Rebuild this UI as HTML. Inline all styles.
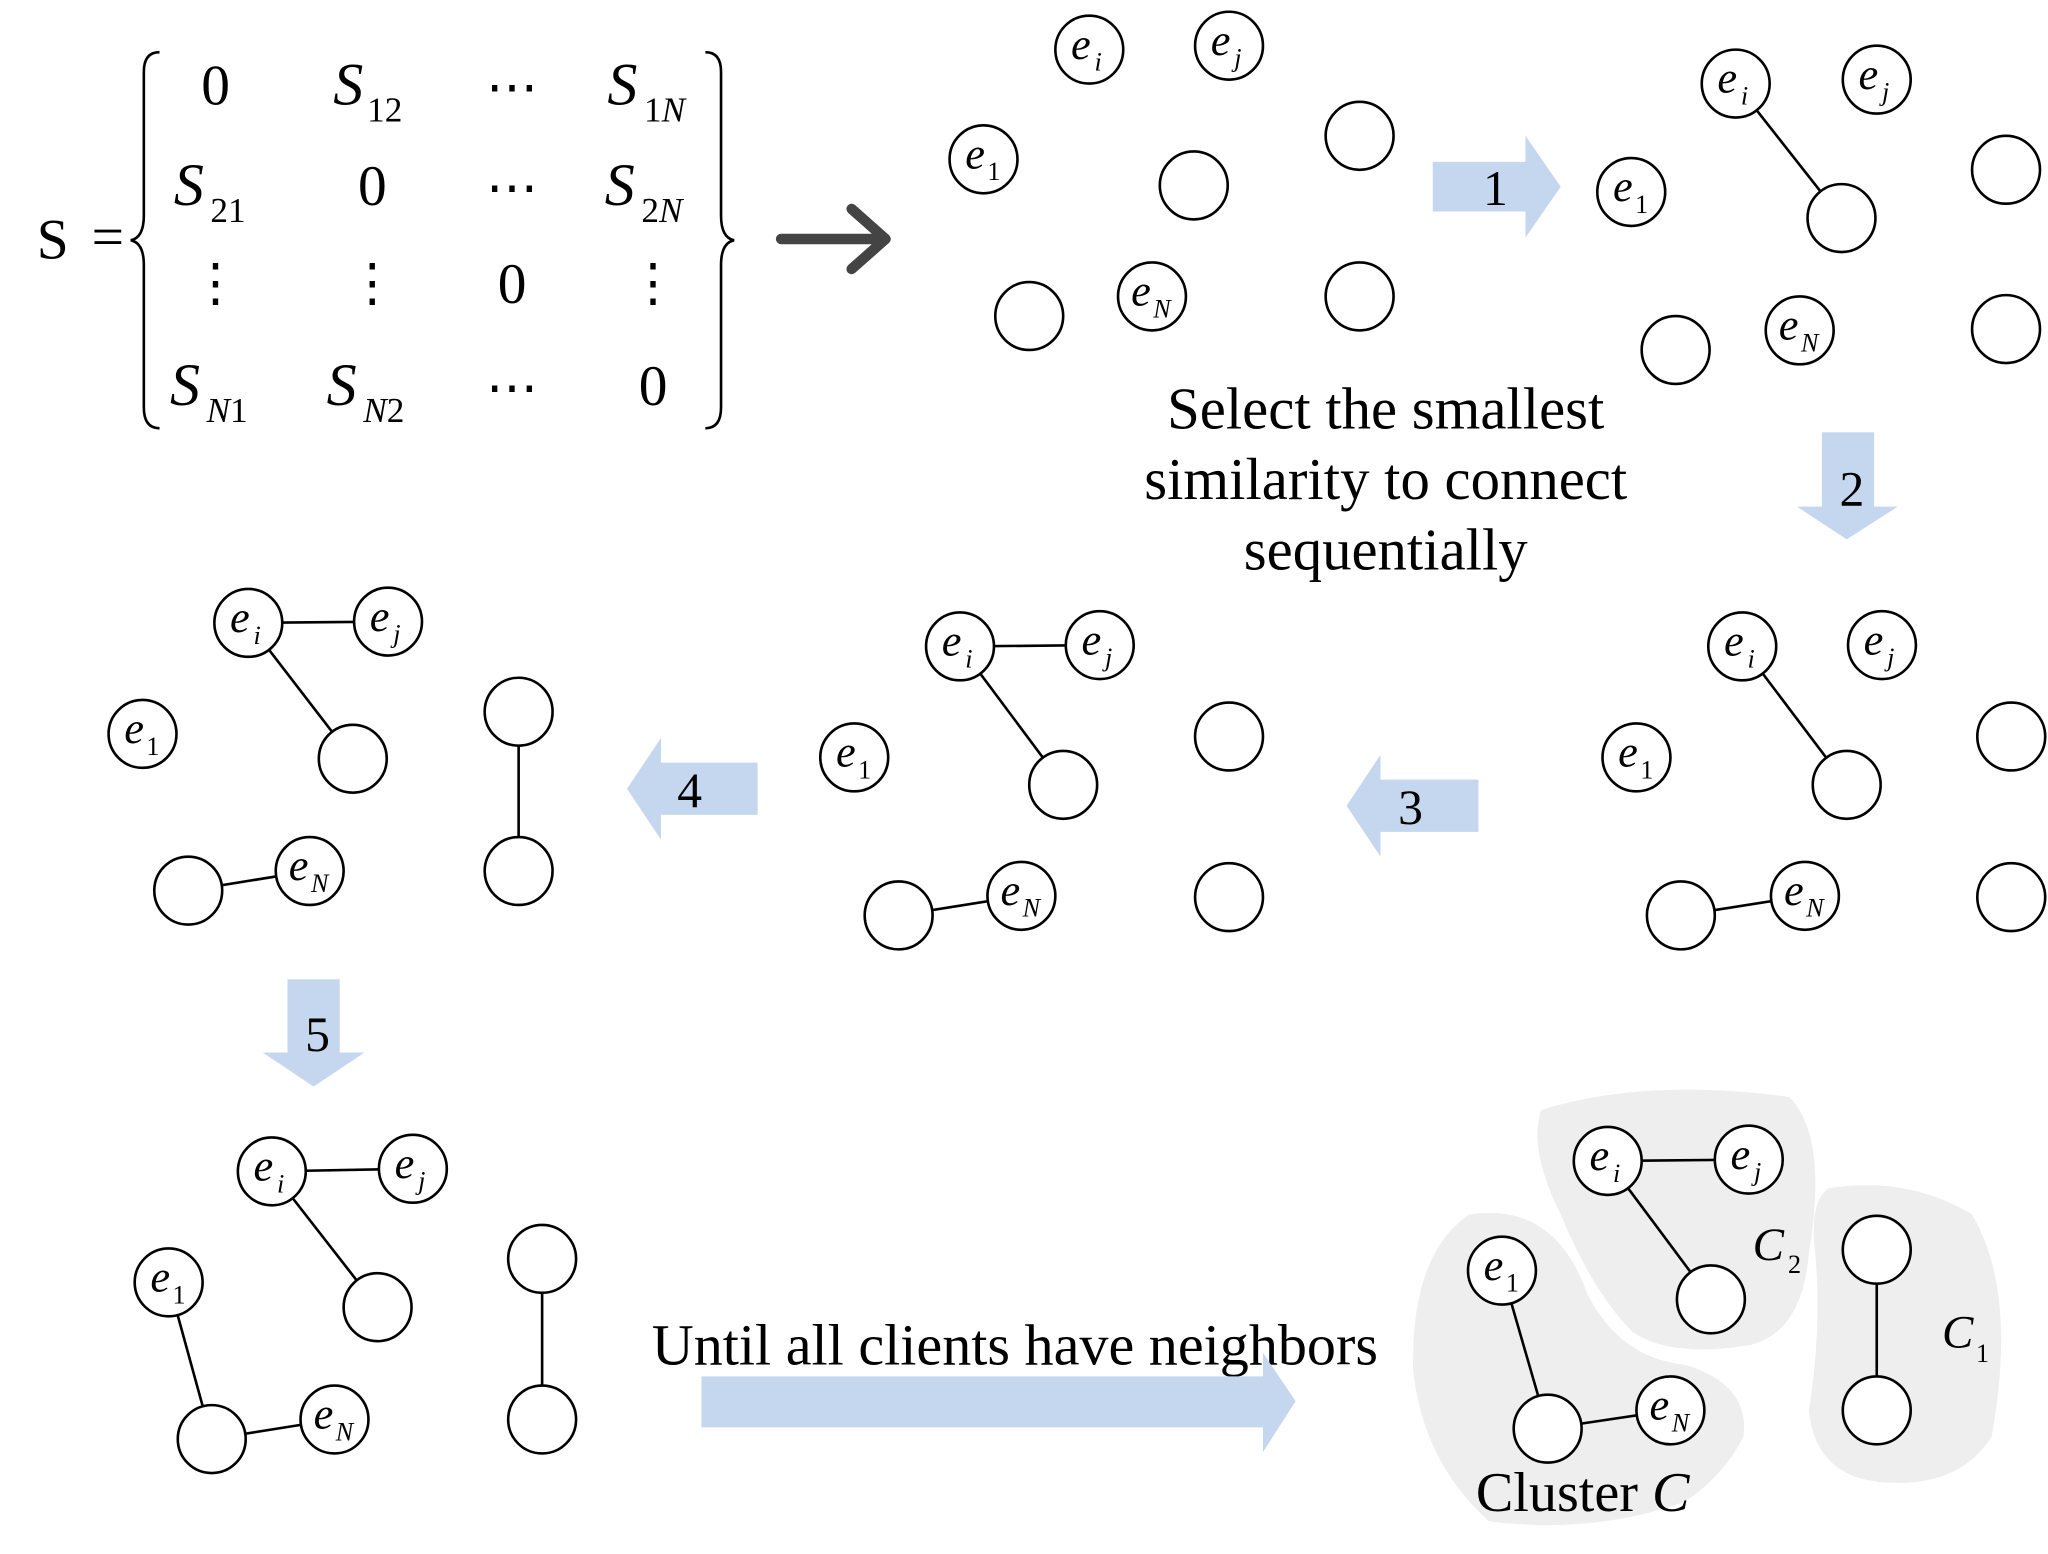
<!DOCTYPE html>
<html><head><meta charset="utf-8"><style>
html,body{margin:0;padding:0;background:#fff;}
svg{display:block;}
text{font-family:"Liberation Serif",serif;fill:#000;}
.n{fill:#fff;stroke:#000;stroke-width:2;}
.l{stroke:#000;stroke-width:2;}
.e{font-style:italic;font-size:34px;}
.s{font-style:italic;font-size:20px;}
.su{font-size:20px;}
.m{font-style:italic;font-size:46px;}
.ms{font-style:italic;font-size:27px;}
.a{fill:#c5d7ee;}
.t{font-size:45px;}
</style></head><body>
<svg width="2048" height="1554" viewBox="0 0 1568 1190" xmlns="http://www.w3.org/2000/svg">
<defs>
<g id="ei"><circle class="n" r="26"/><text class="e" x="-14" y="7">e</text><text class="s" x="4" y="16">i</text></g>
<g id="ej"><circle class="n" r="26"/><text class="e" x="-14" y="7">e</text><text class="s" x="4" y="16">j</text></g>
<g id="e1"><circle class="n" r="26"/><text class="e" x="-14" y="7">e</text><text class="su" x="3" y="16">1</text></g>
<g id="eN"><circle class="n" r="26"/><text class="e" x="-16" y="7">e</text><text class="s" x="1" y="16">N</text></g>
<g id="o"><circle class="n" r="26"/></g>
</defs>

<!-- matrix -->
<text x="28" y="198" style="font-size:44px">S</text>
<text x="70" y="196" style="font-size:44px">=</text>
<path d="M122 40 Q110 40 110 55 L110 165 Q110 182 100 184 Q110 186 110 203 L110 312 Q110 328 122 328" fill="none" stroke="#000" stroke-width="2"/>
<path d="M540 40 Q552 40 552 55 L552 165 Q552 182 562 184 Q552 186 552 203 L552 312 Q552 328 540 328" fill="none" stroke="#000" stroke-width="2"/>
<g text-anchor="middle">
<text x="165" y="80" style="font-size:44px">0</text>
<text x="285" y="157" style="font-size:44px">0</text>
<text x="392" y="232" style="font-size:44px">0</text>
<text x="500" y="310" style="font-size:44px">0</text>
<text x="392" y="80" style="font-size:40px">⋯</text>
<text x="392" y="157" style="font-size:40px">⋯</text>
<text x="392" y="310" style="font-size:40px">⋯</text>
<text x="165" y="230" style="font-size:40px">⋮</text>
<text x="285" y="230" style="font-size:40px">⋮</text>
<text x="500" y="230" style="font-size:40px">⋮</text>
</g>
<text class="m" x="255" y="80">S</text><text x="281" y="93" style="font-size:27px">12</text>
<text class="m" x="465" y="80">S</text><text x="493" y="93" style="font-size:27px">1<tspan font-style="italic">N</tspan></text>
<text class="m" x="133" y="157">S</text><text x="161" y="170" style="font-size:27px">21</text>
<text class="m" x="463" y="157">S</text><text x="491" y="170" style="font-size:27px">2<tspan font-style="italic">N</tspan></text>
<text class="m" x="130" y="310">S</text><text x="158" y="323" style="font-size:27px"><tspan font-style="italic">N</tspan>1</text>
<text class="m" x="250" y="310">S</text><text x="278" y="323" style="font-size:27px"><tspan font-style="italic">N</tspan>2</text>
<path d="M598 183 L676 183 M652 160 L678 183 L652 206" fill="none" stroke="#444" stroke-width="8" stroke-linecap="round" stroke-linejoin="round"/>

<!-- panel 1 -->
<use href="#ei" x="834" y="38"/><use href="#ej" x="941" y="35"/><use href="#e1" x="753" y="122"/>
<use href="#o" x="1041" y="104"/><use href="#o" x="914" y="142"/><use href="#eN" x="882" y="227"/>
<use href="#o" x="788" y="242"/><use href="#o" x="1041" y="227"/>
<polygon class="a" points="1097,124 1168,124 1168,104 1195,143 1168,182 1168,162 1097,162"/>
<text x="1145" y="157" text-anchor="middle" style="font-size:38px">1</text>

<!-- panel 2 -->
<line class="l" x1="1329" y1="64" x2="1410" y2="167"/>
<use href="#ei" x="1329" y="64"/><use href="#ej" x="1437" y="61"/><use href="#e1" x="1249" y="147"/>
<use href="#o" x="1410" y="167"/><use href="#o" x="1536" y="130"/><use href="#o" x="1283" y="268"/>
<use href="#eN" x="1378" y="253"/><use href="#o" x="1536" y="252"/>

<g text-anchor="middle" class="t" style="font-size:45px">
<text x="1061" y="328">Select the smallest</text>
<text x="1061" y="382">similarity to connect</text>
<text x="1061" y="436">sequentially</text>
</g>
<polygon class="a" points="1395,331 1435,331 1435,388 1453,388 1414,413 1376,388 1395,388"/>
<text x="1418" y="387" text-anchor="middle" style="font-size:38px">2</text>

<!-- panel 3 -->
<line class="l" x1="1334" y1="495" x2="1414" y2="601"/><line class="l" x1="1287" y1="701" x2="1382" y2="686"/>
<use href="#ei" x="1334" y="495"/><use href="#ej" x="1441" y="494"/><use href="#e1" x="1253" y="580"/>
<use href="#o" x="1414" y="601"/><use href="#o" x="1540" y="564"/><use href="#o" x="1287" y="701"/>
<use href="#eN" x="1382" y="686"/><use href="#o" x="1540" y="687"/>
<polygon class="a" points="1031,617 1057,578 1057,597 1132,597 1132,637 1057,637 1057,656"/>
<text x="1080" y="631" text-anchor="middle" style="font-size:38px">3</text>

<!-- panel 4 -->
<line class="l" x1="735" y1="495" x2="842" y2="494"/><line class="l" x1="735" y1="495" x2="814" y2="601"/><line class="l" x1="688" y1="701" x2="782" y2="686"/>
<use href="#ei" x="735" y="495"/><use href="#ej" x="842" y="494"/><use href="#e1" x="654" y="580"/>
<use href="#o" x="814" y="601"/><use href="#o" x="941" y="564"/><use href="#o" x="688" y="701"/>
<use href="#eN" x="782" y="686"/><use href="#o" x="941" y="687"/>
<polygon class="a" points="480,604 506,565 506,584 580,584 580,624 506,624 506,643"/>
<text x="528" y="618" text-anchor="middle" style="font-size:38px">4</text>

<!-- panel 5 -->
<line class="l" x1="190" y1="477" x2="297" y2="476"/><line class="l" x1="190" y1="477" x2="270" y2="581"/><line class="l" x1="144" y1="682" x2="237" y2="667"/><line class="l" x1="397" y1="545" x2="397" y2="667"/>
<use href="#ei" x="190" y="477"/><use href="#ej" x="297" y="476"/><use href="#e1" x="109" y="562"/>
<use href="#o" x="270" y="581"/><use href="#o" x="397" y="545"/><use href="#o" x="397" y="667"/>
<use href="#o" x="144" y="682"/><use href="#eN" x="237" y="667"/>
<polygon class="a" points="220,750 260,750 260,806 279,806 240,832 201,806 220,806"/>
<text x="243" y="805" text-anchor="middle" style="font-size:38px">5</text>

<!-- panel 6 -->
<line class="l" x1="208" y1="897" x2="316" y2="895"/><line class="l" x1="208" y1="897" x2="289" y2="1001"/><line class="l" x1="162" y1="1102" x2="256" y2="1087"/><line class="l" x1="129" y1="982" x2="162" y2="1102"/><line class="l" x1="415" y1="964" x2="415" y2="1087"/>
<use href="#ei" x="208" y="897"/><use href="#ej" x="316" y="895"/><use href="#e1" x="129" y="982"/>
<use href="#o" x="289" y="1001"/><use href="#o" x="415" y="964"/><use href="#o" x="415" y="1087"/>
<use href="#o" x="162" y="1102"/><use href="#eN" x="256" y="1087"/>
<text x="777" y="1045" text-anchor="middle" style="font-size:44.5px">Until all clients have neighbors</text>
<polygon class="a" points="537,1054 967,1054 967,1036 992,1073 967,1112 967,1093 537,1093"/>

<!-- final -->
<path d="M1180 850 Q1260 825 1370 840 Q1400 870 1385 960 Q1380 1020 1340 1030 Q1280 1040 1250 1020 Q1220 990 1195 930 Q1170 880 1180 850 Z" fill="#eeeeee"/>
<path d="M1400 910 Q1460 900 1510 930 Q1545 990 1525 1100 Q1500 1140 1440 1135 Q1390 1130 1385 1080 Q1395 1020 1390 960 Q1385 920 1400 910 Z" fill="#eeeeee"/>
<path d="M1125 930 Q1190 920 1215 990 Q1240 1040 1290 1045 Q1340 1060 1335 1100 Q1320 1130 1290 1150 Q1220 1175 1140 1165 Q1090 1120 1082 1050 Q1080 960 1125 930 Z" fill="#eeeeee"/>
<line class="l" x1="1231" y1="889" x2="1339" y2="888"/><line class="l" x1="1231" y1="889" x2="1310" y2="995"/><line class="l" x1="1150" y1="973" x2="1185" y2="1094"/><line class="l" x1="1185" y1="1094" x2="1279" y2="1080"/><line class="l" x1="1437" y1="957" x2="1437" y2="1080"/>
<use href="#ei" x="1231" y="889"/><use href="#ej" x="1339" y="888"/><use href="#o" x="1310" y="995"/>
<use href="#e1" x="1150" y="973"/><use href="#o" x="1185" y="1094"/><use href="#eN" x="1279" y="1080"/>
<use href="#o" x="1437" y="957"/><use href="#o" x="1437" y="1080"/>
<text x="1342" y="965" style="font-size:36px;font-style:italic">C</text><text x="1369" y="975" style="font-size:20px">2</text>
<text x="1487" y="1032" style="font-size:36px;font-style:italic">C</text><text x="1513" y="1043" style="font-size:20px">1</text>
<text x="1130" y="1157" style="font-size:43px">Cluster <tspan font-style="italic">C</tspan></text>
</svg>
</body></html>
